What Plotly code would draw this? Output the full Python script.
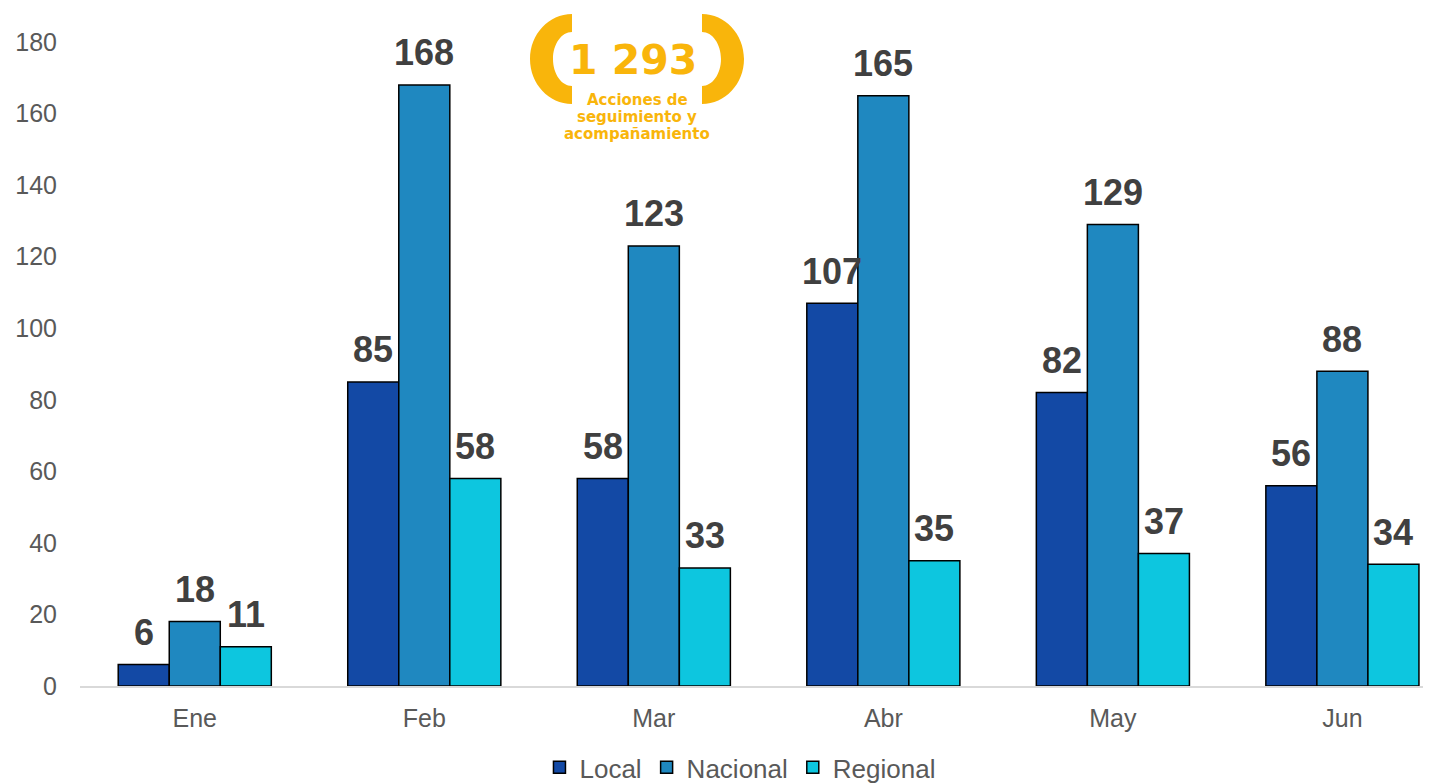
import plotly.graph_objects as go

# Data
months = ["Ene", "Feb", "Mar", "Abr", "May", "Jun"]
local = [6, 85, 58, 107, 82, 56]
nacional = [18, 168, 123, 165, 129, 88]
regional = [11, 58, 33, 35, 37, 34]
total_label = "1 293"
total_caption = ["Acciones de", "seguimiento y", "acompañamiento"]

# page has an 8px body margin, so the figure is a bit smaller than the window
OFF = 8
W, H = 1431 - OFF, 783 - OFF
ML, MT = 80 - OFF, 42 - OFF
PW, PH = 1351, 644
MR, MB = W - ML - PW, H - MT - PH
BAR_PX = 51  # bar width in pixels, used to shift labels over each bar


def px(x, y):
    # page pixel -> paper coordinates
    return (x - OFF - ML) / PW, (MT + PH - (y - OFF)) / PH


def crescent(cx, cy, rx_out, ry_out, rx_in, ry_in, side):
    # half ring shaped like a parenthesis, side=-1 left, +1 right
    k = 0.5523
    s = side
    pts_out = [
        (cx, cy - ry_out),
        (cx + s * k * rx_out, cy - ry_out), (cx + s * rx_out, cy - k * ry_out), (cx + s * rx_out, cy),
        (cx + s * rx_out, cy + k * ry_out), (cx + s * k * rx_out, cy + ry_out), (cx, cy + ry_out),
    ]
    pts_in = [
        (cx, cy + ry_in),
        (cx + s * k * rx_in, cy + ry_in), (cx + s * rx_in, cy + k * ry_in), (cx + s * rx_in, cy),
        (cx + s * rx_in, cy - k * ry_in), (cx + s * k * rx_in, cy - ry_in), (cx, cy - ry_in),
    ]
    p = [px(*q) for q in pts_out]
    i = [px(*q) for q in pts_in]
    f = lambda a: f"{a[0]:.5f},{a[1]:.5f}"
    path = (f"M {f(p[0])} C {f(p[1])} {f(p[2])} {f(p[3])} C {f(p[4])} {f(p[5])} {f(p[6])} "
            f"L {f(i[0])} C {f(i[1])} {f(i[2])} {f(i[3])} C {f(i[4])} {f(i[5])} {f(i[6])} Z")
    return path


colors = {"Local": "#1349A5", "Nacional": "#1F88C0", "Regional": "#0DC6DF"}
series = [("Local", local), ("Nacional", nacional), ("Regional", regional)]

fig = go.Figure()
for name, vals in series:
    fig.add_trace(go.Bar(
        x=months, y=vals, name=name,
        marker=dict(color=colors[name], line=dict(color="#000000", width=1.5)),
        cliponaxis=False, hoverinfo="x+y+name",
    ))

# data labels above each bar
for j, (name, vals) in enumerate(series):
    for m, v in zip(months, vals):
        fig.add_annotation(x=m, y=v, xref="x", yref="y", text=f"<b>{v}</b>",
                           showarrow=False, xanchor="center", yanchor="middle",
                           xshift=(j - 1) * BAR_PX, yshift=32,
                           font=dict(family="Arial", size=36, color="#404040"))

yellow = "#F9B50B"
fig.add_shape(type="path", xref="paper", yref="paper",
              path=crescent(572, 59, 42, 45, 19, 27, -1),
              fillcolor=yellow, line=dict(width=0))
fig.add_shape(type="path", xref="paper", yref="paper",
              path=crescent(702, 59, 42, 45, 19, 27, 1),
              fillcolor=yellow, line=dict(width=0))

ax, ay = px(633, 60)
fig.add_annotation(x=ax, y=ay, xref="paper", yref="paper", text=f"<b>{total_label}</b>",
                   showarrow=False, xanchor="center", yanchor="middle",
                   font=dict(family="DejaVu Sans", size=41, color=yellow))
for line, ly in zip(total_caption, [100, 117, 134]):
    bx, by = px(637, ly)
    fig.add_annotation(x=bx, y=by, xref="paper", yref="paper", text=f"<b>{line}</b>",
                       showarrow=False, xanchor="center", yanchor="middle",
                       font=dict(family="DejaVu Sans", size=15, color=yellow))

fig.update_layout(
    width=W, height=H,
    margin=dict(l=ML, r=MR, t=MT, b=MB, autoexpand=False),
    plot_bgcolor="white", paper_bgcolor="white",
    barmode="group", bargap=0.333, bargroupgap=0,
    font=dict(family="Arial", color="#595959"),
    showlegend=True,
    legend=dict(orientation="h", x=0.4885, xanchor="center", y=-0.090, yanchor="top",
                font=dict(family="Arial", size=26, color="#595959"),
                itemwidth=30, traceorder="normal", tracegroupgap=0),
    xaxis=dict(range=[-0.5, 5.386], showline=True, linecolor="#D9D9D9", linewidth=1.5,
               ticks="", tickfont=dict(size=25, color="#595959"), ticklabelstandoff=9,
               automargin=False),
    yaxis=dict(range=[0, 180], dtick=20, showgrid=False, zeroline=False, showline=False,
               ticks="", tickfont=dict(size=25, color="#595959"), ticklabelstandoff=22,
               automargin=False),
)

fig.write_html("out.html")
